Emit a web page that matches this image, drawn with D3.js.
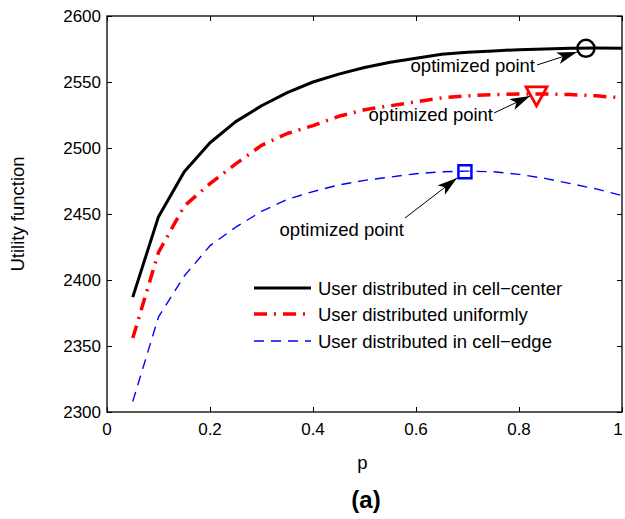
<!DOCTYPE html>
<html>
<head>
<meta charset="utf-8">
<script src="https://cdn.jsdelivr.net/npm/d3@7"></script>
<style>
  body { margin: 0; background: #fff; }
  text { font-family: "Liberation Sans", Arial, Helvetica, sans-serif; fill: #000; }
</style>
</head>
<body>
<svg id="chart" width="625" height="519"></svg>
<script>
// ---- data ----
const pValues = [0.05,0.10,0.15,0.20,0.25,0.30,0.35,0.40,0.45,0.50,0.55,0.60,0.65,0.70,0.75,0.80,0.85,0.90,0.95,1.00];
const cellCenter = [2387,2448,2482,2504,2520,2532,2542,2550,2556,2561,2565,2568,2571,2572.5,2573.5,2574.5,2575,2575.5,2575.7,2575.6];
const uniform    = [2356,2421,2456,2473,2488,2502,2511,2517,2524,2529,2532,2535,2538,2539.5,2540.5,2541,2541,2540.5,2539.5,2538];
const cellEdge   = [2308,2372,2403,2426,2440,2452,2461,2467,2472,2475.5,2478,2480.5,2482,2482.5,2482,2480,2477,2473,2469,2464];
const optCenter  = [0.93, 2575.5];
const optUniform = [0.834, 2541];
const optEdge    = [0.695, 2482];
const seriesNames = ["User distributed in cell\u2212center","User distributed uniformly","User distributed in cell\u2212edge"];
const xTicks = [0,0.2,0.4,0.6,0.8,1];
const xTickLabels = ["0","0.2","0.4","0.6","0.8","1"];
const yTicks = [2300,2350,2400,2450,2500,2550,2600];
const annotationText = "optimized point";

// ---- layout ----
const L = 107, R = 622, T = 16, B = 412;
const svg = d3.select("#chart");
const x = d3.scaleLinear().domain([0,1]).range([L,R]);
const y = d3.scaleLinear().domain([2300,2600]).range([B,T]);

// arrow marker
const defs = svg.append("defs");
defs.append("marker").attr("id","ah").attr("viewBox","0 0 20 12")
  .attr("refX",20).attr("refY",6).attr("markerWidth",20).attr("markerHeight",12)
  .attr("markerUnits","userSpaceOnUse").attr("orient","auto")
  .append("path").attr("d","M0,0 L20,6 L0,12 L5,6 Z").attr("fill","#000");

// axes (inward ticks on all sides)
const tickLen = 5;
const ax = svg.append("g");
ax.append("g").attr("transform",`translate(0,${B})`)
  .call(d3.axisBottom(x).tickValues(xTicks).tickSize(-tickLen).tickFormat(""));
ax.append("g").attr("transform",`translate(0,${T})`)
  .call(d3.axisTop(x).tickValues(xTicks).tickSize(-tickLen).tickFormat(""));
ax.append("g").attr("transform",`translate(${L},0)`)
  .call(d3.axisLeft(y).tickValues(yTicks).tickSize(-tickLen).tickFormat(""));
ax.append("g").attr("transform",`translate(${R},0)`)
  .call(d3.axisRight(y).tickValues(yTicks).tickSize(-tickLen).tickFormat(""));
ax.selectAll(".domain").remove();
ax.selectAll("line").attr("stroke","#000").attr("stroke-width",1);
svg.append("rect").attr("x",L).attr("y",T).attr("width",R-L).attr("height",B-T)
  .attr("fill","none").attr("stroke","#000").attr("stroke-width",1.3);

// tick labels
svg.append("g").selectAll("text").data(xTicks).join("text")
  .attr("x",d=>Math.min(x(d), 618)).attr("y",B+23).attr("text-anchor","middle")
  .attr("font-size",17).text((d,i)=>xTickLabels[i]);
svg.append("g").selectAll("text").data(yTicks).join("text")
  .attr("x",L-6).attr("y",d=>y(d)+6).attr("text-anchor","end")
  .attr("font-size",17).text(d=>d);

// axis labels
svg.append("text").attr("x",(L+R)/2-2).attr("y",469).attr("text-anchor","middle")
  .attr("font-size",18.5).text("p");
svg.append("text").attr("transform",`translate(24,${(T+B)/2}) rotate(-90)`)
  .attr("text-anchor","middle").attr("font-size",18.5).text("Utility function");
svg.append("text").attr("x",366).attr("y",508).attr("text-anchor","middle")
  .attr("font-size",24).attr("font-weight","bold").text("(a)");

// lines
const styles = [
  {data: cellCenter, color:"#000", width:3, dash:null},
  {data: uniform, color:"#ff0000", width:3.5, dash:"13,7,2,7"},
  {data: cellEdge, color:"#0000ff", width:1.4, dash:"10,7"}
];
const line = d3.line().x((d,i)=>x(pValues[i])).y(d=>y(d));
styles.forEach(s=>{
  svg.append("path").datum(s.data).attr("d",line)
    .attr("fill","none").attr("stroke",s.color).attr("stroke-width",s.width)
    .attr("stroke-dasharray",s.dash).attr("stroke-linejoin","round");
});

// optimum markers
svg.append("circle").attr("cx",x(optCenter[0])).attr("cy",y(optCenter[1])).attr("r",8.5)
  .attr("fill","none").attr("stroke","#000").attr("stroke-width",2.5);
{
  const cx = x(optUniform[0]), cy = y(optUniform[1]) + 2;
  svg.append("path").attr("d",`M${cx-10.5},${cy-9} L${cx+10.5},${cy-9} L${cx},${cy+10} Z`)
    .attr("fill","none").attr("stroke","#ff0000").attr("stroke-width",2.8).attr("stroke-linejoin","miter");
}
svg.append("rect").attr("x",x(optEdge[0])-6.5).attr("y",y(optEdge[1])-6.5)
  .attr("width",13).attr("height",13)
  .attr("fill","none").attr("stroke","#0000ff").attr("stroke-width",2.5);

// annotations
const notes = [
  {tx:535, ty:72, x1:537, y1:65, x2:577, y2:52},
  {tx:493, ty:121, x1:494, y1:113, x2:530, y2:96},
  {tx:404, ty:236, x1:405, y1:218, x2:457, y2:178}
];
notes.forEach(n=>{
  svg.append("text").attr("x",n.tx).attr("y",n.ty).attr("text-anchor","end")
    .attr("font-size",18.5).text(annotationText);
  svg.append("line").attr("x1",n.x1).attr("y1",n.y1).attr("x2",n.x2).attr("y2",n.y2)
    .attr("stroke","#000").attr("stroke-width",1).attr("marker-end","url(#ah)");
});

// legend
const legY = [288,314,341];
styles.forEach((s,i)=>{
  svg.append("line").attr("x1",254).attr("x2",311).attr("y1",legY[i]).attr("y2",legY[i])
    .attr("stroke",s.color).attr("stroke-width",s.width).attr("stroke-dasharray",s.dash);
  svg.append("text").attr("x",318).attr("y",legY[i]+6.5).attr("font-size",18.5).text(seriesNames[i]);
});
</script>
</body>
</html>
